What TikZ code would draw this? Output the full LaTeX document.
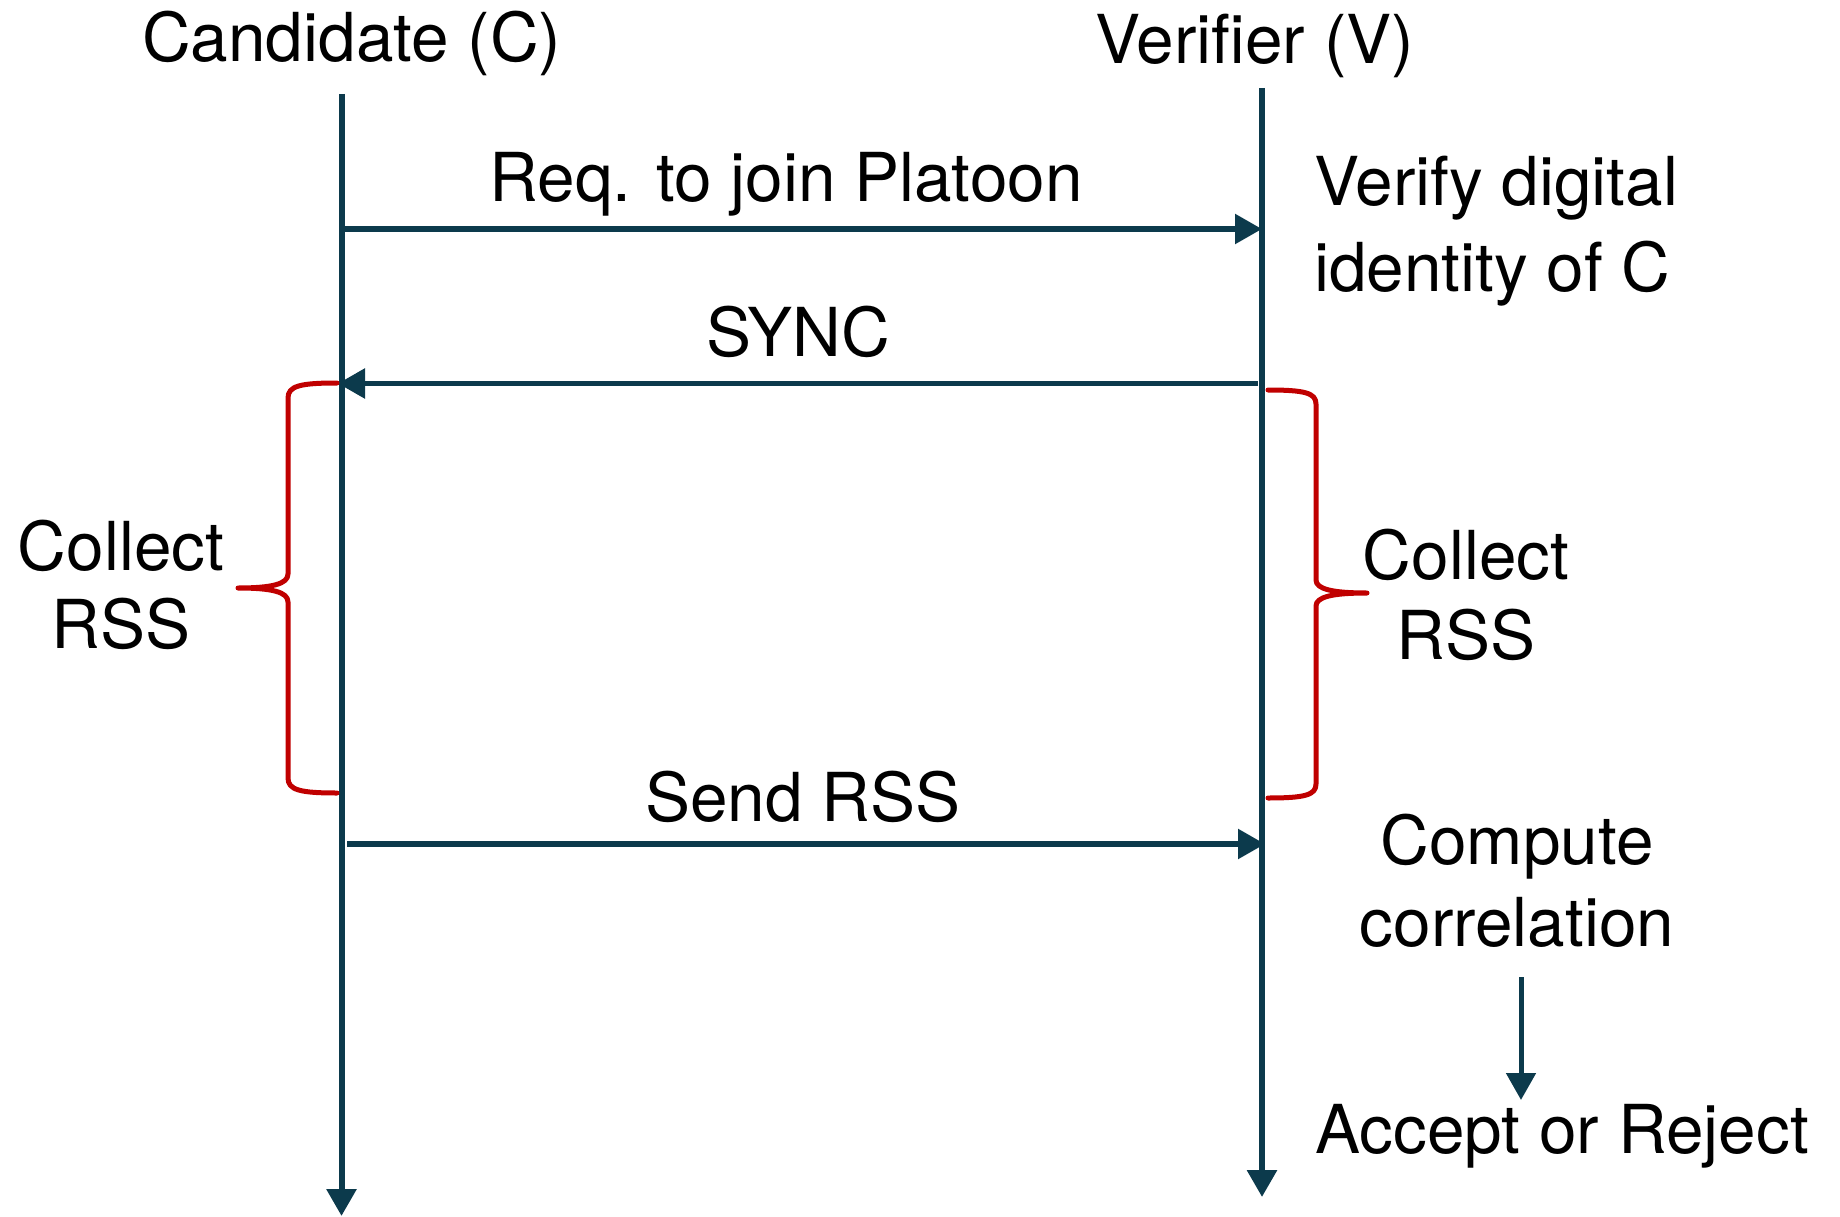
\documentclass[tikz,border=0pt]{standalone}
\usepackage{fontspec}
\setmainfont{TeX Gyre Heros}
\usetikzlibrary{arrows.meta}
\definecolor{lifeline}{RGB}{12,58,76}
\definecolor{bracered}{RGB}{192,0,0}
\begin{document}
\begin{tikzpicture}[x=1pt,y=-1pt,
  lbl/.style={inner sep=0pt,text=black,font=\fontsize{67.5}{80}\selectfont},
  life/.style={draw=lifeline,line width=6pt,-{Triangle[length=27pt,width=29pt]}},
  msg/.style={draw=lifeline,line width=5.5pt,-{Triangle[length=27pt,width=29pt]}},
  brace/.style={draw=bracered,line width=5pt,line cap=round,line join=round}]
\useasboundingbox (0,0) rectangle (1840,1217);

% lifelines
\coordinate (ctop) at (341.5,94);
\coordinate (cbot) at (341.5,1216);
\coordinate (vtop) at (1262,88);
\coordinate (vbot) at (1262,1197);
\draw[life] (ctop) -- (cbot);
\draw[life] (vtop) -- (vbot);

% participants
\node[lbl,anchor=base west] (cand) at (142,62) {Candidate (C)};
\node[lbl,anchor=base west] (verif) at (1095,64) {Verifier (V)};

% messages
\coordinate (req1) at (341.5,229);
\coordinate (req2) at (1262,229);
\draw[msg] (req1) -- (req2);
\node[lbl,anchor=base] (reqlbl) at (786,202) {Req. to join Platoon};

\coordinate (sync1) at (1258,383.5);
\coordinate (sync2) at (338,383.5);
\draw[msg] (sync1) -- (sync2);
\node[lbl,anchor=base] (synclbl) at (798,356) {SYNC};

\coordinate (send1) at (347,844);
\coordinate (send2) at (1265,844);
\draw[msg] (send1) -- (send2);
\node[lbl,anchor=base] (sendlbl) at (803,821) {Send RSS};

% verifier actions (base anchor sits on the last line)
\node[lbl,anchor=base west,align=left,font=\fontsize{67.5}{86}\selectfont]
  (verify) at (1314,291) {Verify digital\\identity of C};
\node[lbl,anchor=base,align=center,font=\fontsize{67.5}{82}\selectfont]
  (compute) at (1517,946) {Compute\\correlation};
\node[lbl,anchor=base west] (decide) at (1315,1153) {Accept or Reject};
\coordinate (dtop) at (1521,977);
\coordinate (dbot) at (1521,1100);
\draw[msg,line width=5pt] (dtop) -- (dbot);

% RSS collection braces
\draw[brace] (337,383) .. controls (300,383) and (288,386) .. (288,398)
  -- (288,574) .. controls (288,584) and (272,588) .. (238,588)
  .. controls (272,588) and (288,592) .. (288,602)
  -- (288,778) .. controls (288,790) and (300,793) .. (337,793);
\draw[brace] (1268,390) .. controls (1305,390) and (1316,393) .. (1316,404)
  -- (1316,580) .. controls (1316,589) and (1332,593) .. (1367,593)
  .. controls (1332,593) and (1316,597) .. (1316,606)
  -- (1316,784) .. controls (1316,795) and (1305,798) .. (1268,798);

\node[lbl,anchor=base,align=center,font=\fontsize{67.5}{78}\selectfont]
  (lcollect) at (121,648) {Collect\\RSS};
\node[lbl,anchor=base,align=center,font=\fontsize{67.5}{80}\selectfont]
  (rcollect) at (1466,659) {Collect\\RSS};
\end{tikzpicture}
\end{document}
